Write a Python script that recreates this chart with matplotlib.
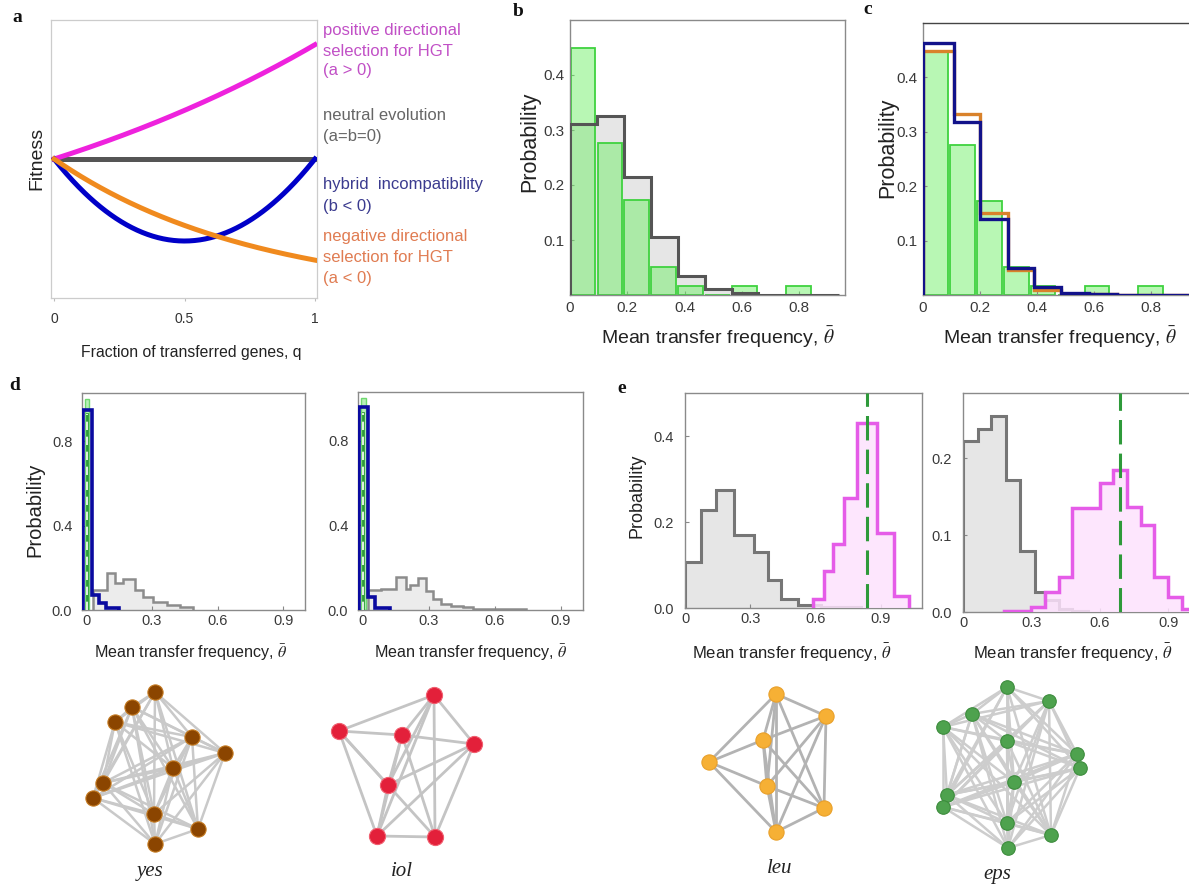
import numpy as np
import matplotlib
matplotlib.use("Agg")
import matplotlib.pyplot as plt
from itertools import combinations

plt.rcParams['font.family'] = ['Liberation Sans', 'DejaVu Sans']
plt.rcParams['mathtext.fontset'] = 'stix'

W, H = 1189, 888
fig = plt.figure(figsize=(W / 100, H / 100), dpi=100)


def axes_px(x0, y0, x1, y1):
    return fig.add_axes([x0 / W, 1 - y1 / H, (x1 - x0) / W, (y1 - y0) / H])


def fig_text(x, y, s, **kw):
    fig.text(x / W, 1 - y / H, s, **kw)


# ---------------- data ----------------
# (a) fitness model  w(q) = w0*exp(a*q) + b*q*(1-q)
W0 = 0.5
A_POS = 0.6
A_NEG = -1.3
B_HYB = -1.18

# (b, c) observed transfer frequencies and null/model distributions
bin_edges = [0.0, 0.094, 0.188, 0.282, 0.376, 0.47, 0.564, 0.658, 0.752, 0.846, 0.94]
observed_counts = [26, 16, 10, 3, 1, 0, 1, 0, 1, 0]
neutral_b = [0.31, 0.325, 0.215, 0.105, 0.035, 0.01, 0.003, 0.0, 0.0, 0.0]

model_edges_c = [0.0, 0.11, 0.198, 0.297, 0.39, 0.484, 0.583, 0.68, 0.96]
hybrid_c = [0.464, 0.318, 0.14, 0.049, 0.015, 0.003, 0.001, 0.0]
negative_c = [0.449, 0.333, 0.15, 0.046, 0.01, 0.002, 0.001, 0.0]

# (d) two operons under hybrid incompatibility
d1_hyb_edges = [-0.015, 0.025, 0.058, 0.09, 0.15]
d1_hyb = [0.95, 0.07, 0.035, 0.01]
d1_neu_edges = [0.032, 0.093, 0.131, 0.169, 0.222, 0.26, 0.306, 0.367, 0.428, 0.489]
d1_neu = [0.095, 0.177, 0.13, 0.145, 0.095, 0.063, 0.04, 0.024, 0.013]
d1_obs = 0.003

d2_hyb_edges = [-0.015, 0.025, 0.056, 0.124]
d2_hyb = [0.96, 0.063, 0.008]
d2_neu_edges = [0.025, 0.086, 0.154, 0.199, 0.215, 0.252, 0.29, 0.32, 0.358,
                0.403, 0.456, 0.501, 0.56, 0.743]
d2_neu = [0.095, 0.1, 0.155, 0.1, 0.12, 0.15, 0.09, 0.05, 0.03, 0.02, 0.012, 0.006, 0.003]
d2_obs = 0.003

# (e) two operons under positive selection
e1_neu_edges = [0.0, 0.073, 0.142, 0.227, 0.318, 0.38, 0.44, 0.52, 0.625, 0.81]
e1_neu = [0.108, 0.227, 0.275, 0.17, 0.13, 0.064, 0.02, 0.008, 0.002]
e1_pos_edges = [0.59, 0.64, 0.68, 0.73, 0.79, 0.885, 0.96, 1.03]
e1_pos = [0.02, 0.085, 0.15, 0.255, 0.43, 0.175, 0.027]
e1_obs = 0.835

e2_neu_edges = [0.0, 0.065, 0.125, 0.19, 0.25, 0.315, 0.36, 0.42, 0.48, 0.55]
e2_neu = [0.222, 0.238, 0.255, 0.172, 0.08, 0.026, 0.015, 0.004, 0.001]
e2_pos_edges = [0.18, 0.30, 0.36, 0.42, 0.48, 0.54, 0.60, 0.66, 0.72, 0.78,
                0.84, 0.90, 0.96, 1.02]
e2_pos = [0.001, 0.006, 0.026, 0.046, 0.135, 0.135, 0.168, 0.185, 0.137, 0.113,
          0.046, 0.02, 0.004]
e2_obs = 0.688

# interaction networks (node layout in page pixels)
yes_x = [155, 132, 115, 192, 225, 173, 103, 93, 154, 198, 155]
yes_y = [692, 707, 722, 737, 753, 768, 783, 798, 814, 829, 844]
yes_missing = [(0, 10), (2, 9)]
iol_x = [434, 339, 402, 474, 388, 377, 435]
iol_y = [695, 731, 735, 744, 785, 836, 837]
iol_edges = [(1, 0), (1, 2), (1, 5), (1, 4), (1, 6), (0, 2), (0, 4), (0, 5), (0, 6),
             (0, 3), (2, 3), (2, 4), (2, 5), (2, 6), (3, 4), (3, 5), (3, 6), (4, 5),
             (5, 6)]
leu_x = [776, 826, 763, 709, 767, 824, 776]
leu_y = [694, 716, 740, 762, 786, 808, 832]
leu_edges = [(3, 0), (3, 2), (3, 4), (3, 6), (0, 1), (0, 2), (0, 4), (0, 6), (0, 5),
             (2, 1), (2, 4), (2, 6), (2, 5), (1, 4), (1, 5), (1, 6), (4, 5), (4, 6),
             (5, 6)]
eps_x = [1007, 1049, 972, 943, 1007, 1077, 1080, 1014, 947, 943, 1007, 1051, 1008]
eps_y = [687, 701, 714, 727, 741, 754, 768, 782, 795, 807, 823, 835, 848]
eps_missing = [(0, 12), (3, 6)]

# ---------------- styling ----------------
GREEN_FILL = '#6bf064'
GREEN_EDGE = '#3fd23f'
GREY_FILL = '#e6e6e6'
PINK = '#e55ce8'
PINK_FILL = '#fde2fd'
NAVY = '#12128a'
OBS_GREEN = '#2e9a3a'


def style_hist_axes(ax, tick_size):
    for s in ax.spines.values():
        s.set_color('#8a8a8a')
        s.set_linewidth(1.0)
    ax.tick_params(direction='in', length=3, width=0.8, color='#888888',
                   labelsize=tick_size, labelcolor='#3a3a3a', pad=4)


def stairs(ax, edges, vals, line, lw, fill=None, z=2, falpha=1.0):
    if fill is not None:
        ax.stairs(vals, edges, fill=True, color=fill, alpha=falpha, lw=0, zorder=z)
    ax.stairs(vals, edges, color=line, lw=lw, baseline=0, zorder=z + 0.5)


# ---------------- (a) ----------------
ax = axes_px(51, 20, 317, 298)
q = np.linspace(0, 1, 300)
ax.plot(q, np.full_like(q, W0), color='#555555', lw=3.6, zorder=2)
ax.plot(q, W0 * np.exp(A_POS * q), color='#ee22dd', lw=3.6, zorder=3)
ax.plot(q, W0 + B_HYB * q * (1 - q), color='#0000c8', lw=3.6, zorder=4)
ax.plot(q, W0 * np.exp(A_NEG * q), color='#f08a1e', lw=3.6, zorder=5)
ax.set_xlim(-0.012, 1.008)
ax.set_ylim(0, 1)
ax.set_yticks([])
ax.set_xticks([0, 0.5, 1])
ax.set_xticklabels(['0', '0.5', '1'])
ax.tick_params(axis='x', length=2, color='#bbbbbb', labelsize=10, labelcolor='#333333', pad=8)
for s in ax.spines.values():
    s.set_color('#cccccc')
    s.set_linewidth(0.9)
fig_text(37, 158, 'Fitness', rotation=90, ha='center', va='center', fontsize=14, color='#222222')
fig_text(191, 352, 'Fraction of transferred genes, q', ha='center', va='center',
         fontsize=11.3, color='#222222')

side_text = [
    ('positive directional', 31, '#c150c6'), ('selection for HGT', 51, '#c150c6'),
    ('(a > 0)', 71, '#c150c6'),
    ('neutral evolution', 115, '#666666'), ('(a=b=0)', 136, '#666666'),
    ('hybrid  incompatibility', 185, '#3b3b8f'), ('(b < 0)', 207, '#3b3b8f'),
    ('negative directional', 237, '#e07c52'), ('selection for HGT', 257, '#e07c52'),
    ('(a < 0)', 278, '#e07c52'),
]
for s, yy, c in side_text:
    fig_text(323, yy, s, ha='left', va='center', fontsize=12, color=c)

# ---------------- (b) ----------------
obs = np.array(observed_counts) / sum(observed_counts)
bar_left = np.array(bin_edges[:-1]) + 0.002

ax = axes_px(570, 20, 845, 295)
ax.stairs(neutral_b, bin_edges, fill=True, color=GREY_FILL, lw=0, zorder=1)
ax.bar(bar_left, obs, width=0.086, align='edge', color=GREEN_FILL, alpha=0.48,
       edgecolor='none', zorder=2)
ax.bar(bar_left, obs, width=0.086, align='edge', fill=False, edgecolor=GREEN_EDGE,
       lw=1.3, zorder=2.2)
ax.stairs(neutral_b, bin_edges, color='#555555', lw=2.2, baseline=0, zorder=3)
ax.set_xlim(0, 0.96)
ax.set_ylim(0, 0.5)
ax.set_xticks([0, 0.2, 0.4, 0.6, 0.8])
ax.set_xticklabels(['0', '0.2', '0.4', '0.6', '0.8'])
ax.set_yticks([0.1, 0.2, 0.3, 0.4])
style_hist_axes(ax, 11)
fig_text(530, 142, 'Probability', rotation=90, ha='center', va='center', fontsize=15.5, color='#222222')
fig_text(718, 337, r'Mean transfer frequency, $\bar{\theta}$', ha='center', va='center',
         fontsize=14, color='#222222')

# ---------------- (c) ----------------
ax = axes_px(923, 23, 1197, 295)
ax.bar(bar_left, obs, width=0.086, align='edge', color=GREEN_FILL, alpha=0.48,
       edgecolor='none', zorder=1)
ax.bar(bar_left, obs, width=0.086, align='edge', fill=False, edgecolor=GREEN_EDGE,
       lw=1.3, zorder=1.2)
ax.stairs(negative_c, model_edges_c, color='#d9822b', lw=2.4, baseline=0, zorder=3)
ax.stairs(hybrid_c, model_edges_c, color=NAVY, lw=2.4, baseline=0, zorder=4)
ax.set_xlim(0, 0.96)
ax.set_ylim(0, 0.5)
ax.set_xticks([0, 0.2, 0.4, 0.6, 0.8])
ax.set_xticklabels(['0', '0.2', '0.4', '0.6', '0.8'])
ax.set_yticks([0.1, 0.2, 0.3, 0.4])
style_hist_axes(ax, 11)
ax.spines['top'].set_color('#444444')
fig_text(888, 148, 'Probability', rotation=90, ha='center', va='center', fontsize=15.5, color='#222222')
fig_text(1060, 337, r'Mean transfer frequency, $\bar{\theta}$', ha='center', va='center',
         fontsize=14, color='#222222')


# ---------------- (d) ----------------
def panel_d(box, hyb_edges, hyb, neu_edges, neu, obs_x, xlabel_x, ylabel):
    ax = axes_px(*box)
    stairs(ax, neu_edges, neu, '#8c8c8c', 1.8, fill='#ececec', z=1)
    ax.bar(obs_x - 0.011, 1.0, width=0.022, align='edge', color='#b8f0b8',
           edgecolor='#6fd86f', lw=1.0, zorder=2)
    ax.stairs(hyb, hyb_edges, color='#0a0aa0', lw=2.6, baseline=0, zorder=3)
    ax.plot([obs_x, obs_x], [0, 0.93], color=OBS_GREEN, lw=2.0, zorder=4)
    ax.plot([obs_x, obs_x], [0, 0.93], color='white', lw=1.2,
            dashes=(5, 4), zorder=5)
    ax.set_xlim(-0.02, 1.0)
    ax.set_ylim(0, 1.03)
    ax.set_xticks([0, 0.3, 0.6, 0.9])
    ax.set_xticklabels(['0', '0.3', '0.6', '0.9'])
    ax.set_yticks([0, 0.4, 0.8])
    ax.set_yticklabels(['0.0', '0.4', '0.8'])
    style_hist_axes(ax, 10.5)
    ax.tick_params(axis='y', pad=7)
    ax.tick_params(axis='x', pad=3)
    if ylabel:
        fig_text(35, 510, 'Probability', rotation=90, ha='center', va='center',
                 fontsize=14.5, color='#222222')
    fig_text(xlabel_x, 653, r'Mean transfer frequency, $\bar{\theta}$', ha='center',
             va='center', fontsize=11.6, color='#222222')


panel_d((82, 393, 305, 610), d1_hyb_edges, d1_hyb, d1_neu_edges, d1_neu, d1_obs, 191, True)
panel_d((358, 392, 583, 610), d2_hyb_edges, d2_hyb, d2_neu_edges, d2_neu, d2_obs, 471, False)


# ---------------- (e) ----------------
def panel_e(box, xmax, ymax, yticks, neu_edges, neu, pos_edges, pos, obs_x, xlabel_x, ylabel):
    ax = axes_px(*box)
    ax.stairs(neu, neu_edges, fill=True, color=GREY_FILL, lw=0, zorder=1)
    ax.stairs(neu, neu_edges, color='#767676', lw=2.2, baseline=0, zorder=2)
    ax.stairs(pos, pos_edges, fill=True, color=PINK_FILL, alpha=0.85, lw=0, zorder=3)
    ax.stairs(pos, pos_edges, color=PINK, lw=2.5, baseline=0, zorder=4)
    ax.plot([obs_x, obs_x], [0, ymax], color=OBS_GREEN, lw=2.2,
            dashes=(8, 3), zorder=5)
    ax.set_xlim(0, xmax)
    ax.set_ylim(0, ymax)
    ax.set_xticks([0, 0.3, 0.6, 0.9])
    ax.set_xticklabels(['0', '0.3', '0.6', '0.9'])
    ax.set_yticks(yticks)
    ax.set_yticklabels([f'{t:.1f}' for t in yticks])
    style_hist_axes(ax, 10.5)
    ax.tick_params(axis='y', pad=8)
    ax.tick_params(axis='x', pad=3)
    if ylabel:
        fig_text(637, 496, 'Probability', rotation=90, ha='center', va='center',
                 fontsize=13, color='#222222')
    fig_text(xlabel_x, 653, r'Mean transfer frequency, $\bar{\theta}$', ha='center',
             va='center', fontsize=12, color='#222222')


panel_e((685, 393, 922, 608), 1.09, 0.5, [0.0, 0.2, 0.4], e1_neu_edges, e1_neu,
        e1_pos_edges, e1_pos, e1_obs, 792, True)
panel_e((963, 393, 1200, 612), 1.04, 0.285, [0.0, 0.1, 0.2], e2_neu_edges, e2_neu,
        e2_pos_edges, e2_pos, e2_obs, 1073, False)

# ---------------- networks ----------------
axn = fig.add_axes([0, 0, 1, 218 / H])
axn.set_xlim(0, W)
axn.set_ylim(H, 670)
axn.axis('off')


def draw_network(xs, ys, edges, face, edge, size, line_color, lw=1.8):
    for i, j in edges:
        axn.plot([xs[i], xs[j]], [ys[i], ys[j]], color=line_color, lw=lw,
                 solid_capstyle='round', zorder=1)
    axn.scatter(xs, ys, s=size, c=face, edgecolors=edge, linewidths=0.8, zorder=2)


yes_edges = [e for e in combinations(range(len(yes_x)), 2) if e not in yes_missing]
eps_edges = [e for e in combinations(range(len(eps_x)), 2) if e not in eps_missing]

draw_network(yes_x, yes_y, yes_edges, '#8b4500', '#c47a20', 120, '#c9c9c9')
draw_network(iol_x, iol_y, iol_edges, '#e3203a', '#f06070', 135, '#c4c4c4', lw=2.0)
draw_network(leu_x, leu_y, leu_edges, '#f6b035', '#e9a02a', 120, '#b3b3b3', lw=2.0)
draw_network(eps_x, eps_y, eps_edges, '#4ea24e', '#3c8c3c', 95, '#cdcdcd')

for name, xx, yy in [('yes', 150, 871), ('iol', 402, 871), ('leu', 780, 868), ('eps', 997, 874)]:
    fig_text(xx, yy, name, ha='center', va='center', fontsize=15, style='italic',
             family='Liberation Serif', color='#222222')

# panel letters
for letter, xx, yy in [('a', 17, 18), ('b', 518, 12), ('c', 868, 10), ('d', 15, 385), ('e', 622, 388)]:
    fig_text(xx, yy, letter, ha='center', va='center', fontsize=14, fontweight='bold',
             family='Liberation Serif', color='#111111')

fig.savefig('out.png', dpi=100)
